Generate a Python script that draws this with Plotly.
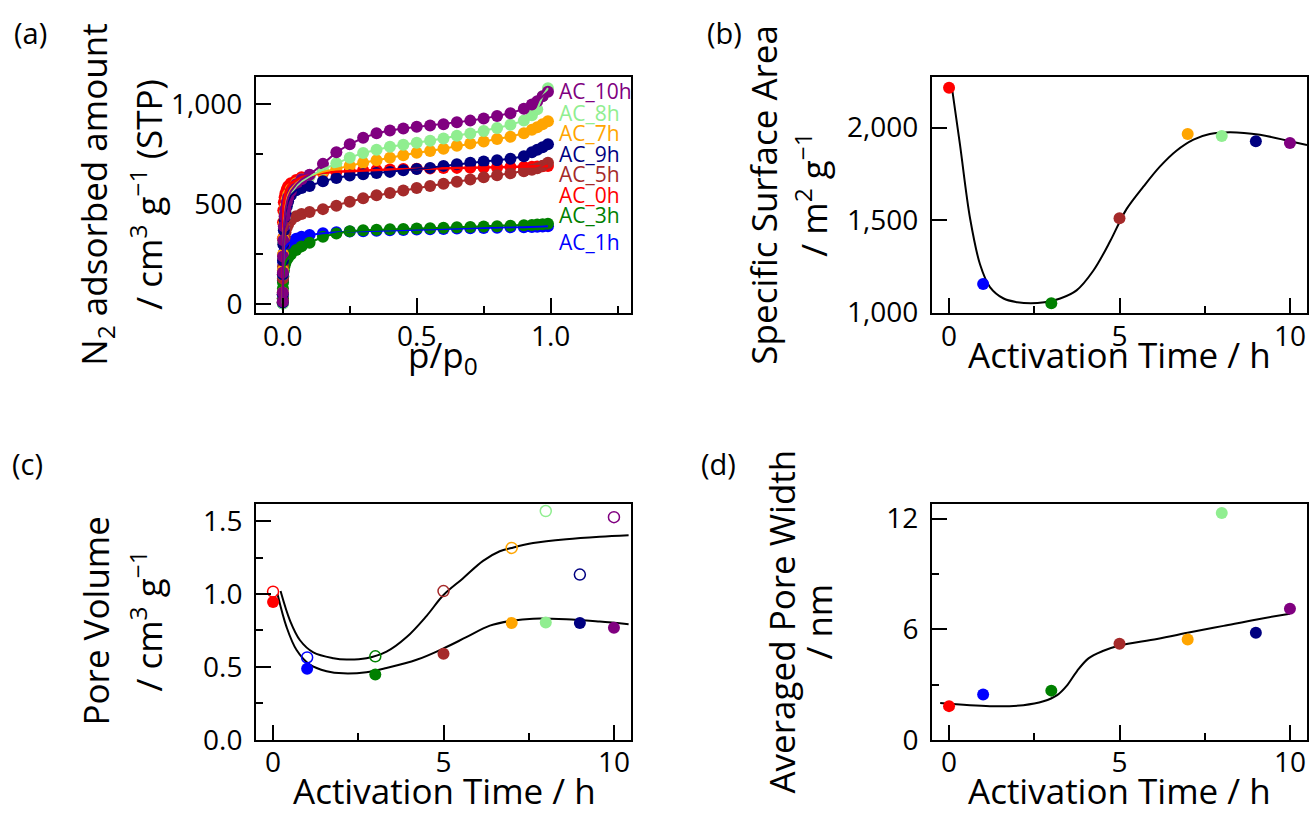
import plotly.graph_objects as go

W, H = 1312, 835
FONT = "Open Sans"

# ---------------- Panel (a): N2 isotherms ----------------
p_rel = [0.00002, 0.0001, 0.0005, 0.001, 0.002, 0.004, 0.007, 0.01, 0.015, 0.02, 0.03,
         0.05, 0.07, 0.1, 0.15, 0.2, 0.25, 0.3, 0.35, 0.4, 0.45, 0.5, 0.55, 0.6,
         0.65, 0.7, 0.75, 0.8, 0.85, 0.9, 0.93, 0.95, 0.97, 0.99]

iso_0h = [30, 150, 330, 410, 470, 510, 535, 555, 575, 590, 605,
          622, 635, 645, 656, 663, 667, 670, 672, 674, 676, 678, 679, 681,
          682, 683, 684, 685, 686, 687, 688, 689, 690, 691]
iso_1h = [10, 50, 120, 170, 210, 245, 270, 285, 295, 303, 312,
          328, 338, 347, 355, 360, 364, 366, 368, 370, 372, 374, 376, 377,
          379, 380, 382, 383, 385, 386, 387, 388, 389, 390]
iso_3h = [5, 30, 80, 110, 140, 170, 195, 210, 225, 235, 250,
          272, 290, 308, 338, 354, 366, 370, 373, 375, 377, 379, 381, 383,
          385, 387, 389, 391, 393, 395, 397, 399, 401, 403]
iso_5h = [10, 50, 130, 190, 250, 300, 335, 360, 385, 400, 420,
          440, 452, 462, 476, 493, 513, 530, 545, 557, 569, 581, 592, 603,
          613, 624, 635, 645, 655, 665, 673, 680, 693, 708]
iso_7h = [10, 60, 170, 250, 330, 400, 450, 490, 525, 548, 575,
          605, 625, 642, 662, 678, 693, 708, 720, 733, 745, 757, 766, 778,
          792, 804, 814, 826, 838, 855, 872, 885, 900, 915]
iso_8h = [5, 50, 150, 230, 310, 380, 430, 465, 500, 525, 555,
          590, 615, 640, 675, 705, 733, 756, 773, 787, 798, 808, 818, 829,
          842, 854, 866, 881, 897, 918, 945, 975, 1040, 1080]
iso_9h = [10, 50, 150, 220, 300, 370, 420, 455, 490, 515, 545,
          570, 582, 592, 615, 632, 644, 650, 656, 662, 670, 676, 682, 692,
          700, 708, 714, 720, 728, 740, 760, 772, 785, 800]
iso_10h = [15, 60, 160, 240, 320, 390, 440, 475, 510, 535, 565,
           600, 625, 648, 702, 760, 800, 832, 855, 869, 879, 887, 894, 900,
           910, 918, 928, 941, 955, 977, 998, 1015, 1040, 1062]

series_names = ["AC_0h", "AC_1h", "AC_3h", "AC_5h", "AC_7h", "AC_8h", "AC_9h", "AC_10h"]
series_vals = [iso_0h, iso_1h, iso_3h, iso_5h, iso_7h, iso_8h, iso_9h, iso_10h]
series_colors = ["#ff0000", "#0000ff", "#008000", "#a52a2a", "#ffa500", "#90ee90", "#000080", "#800080"]

# label order (top to bottom) and their vertical placement
label_names = ["AC_10h", "AC_8h", "AC_7h", "AC_9h", "AC_5h", "AC_0h", "AC_3h", "AC_1h"]
label_y = [1065, 956, 854, 752, 649, 547, 447, 313]

# ---------------- Panels (b)-(d): vs activation time ----------------
act_time = [0, 1, 3, 5, 7, 8, 9, 10]
point_colors = ["#ff0000", "#0000ff", "#008000", "#a52a2a", "#ffa500", "#90ee90", "#000080", "#800080"]

ssa = [2216, 1153, 1049, 1509, 1965, 1954, 1926, 1917]
ssa_fit_x = [0.1, 0.32, 0.62, 0.91, 1.2, 1.6, 2.0, 2.4, 2.8, 3.26, 3.74, 4.23, 4.72,
             5.0, 5.21, 5.7, 6.19, 6.67, 7.17, 7.65, 8.24, 9.12, 10.0, 10.5]
ssa_fit_y = [2196, 1909, 1505, 1259, 1137, 1075, 1055, 1049, 1055, 1075, 1119, 1225, 1383,
             1488, 1560, 1680, 1790, 1875, 1935, 1965, 1975, 1961, 1926, 1905]

pv_filled = [0.945, 0.487, 0.449, 0.591, 0.802, 0.805, 0.802, 0.769]
pv_open = [1.016, 0.565, 0.573, 1.02, 1.316, 1.569, 1.133, 1.527]
pv_fit_low_x = [0.13, 0.4, 0.69, 1.08, 1.57, 2.06, 2.74, 3.33, 4.21, 5.0, 5.67, 6.36,
                7.0, 7.63, 8.6, 9.58, 10.43]
pv_fit_low_y = [1.0, 0.771, 0.616, 0.516, 0.471, 0.456, 0.464, 0.493, 0.549, 0.627, 0.704,
                0.783, 0.816, 0.831, 0.827, 0.811, 0.793]
pv_fit_high_x = [0.22, 0.5, 0.79, 1.18, 1.77, 2.16, 2.74, 3.33, 3.92, 4.5, 5.0, 5.56,
                 6.16, 6.65, 7.0, 7.63, 8.6, 9.58, 10.43]
pv_fit_high_y = [1.02, 0.816, 0.683, 0.6, 0.56, 0.551, 0.56, 0.605, 0.705, 0.849, 0.993,
                 1.105, 1.227, 1.293, 1.316, 1.349, 1.376, 1.393, 1.403]

apw = [1.83, 2.46, 2.67, 5.21, 5.44, 12.3, 5.81, 7.11]
apw_fit_x = [-0.26, 1.2, 2.18, 2.77, 3.16, 3.45, 3.75, 4.09, 4.53, 5.0, 6.1, 7.07, 8.05,
             9.03, 10.0]
apw_fit_y = [2.0, 1.83, 1.88, 2.09, 2.41, 2.93, 3.72, 4.42, 4.83, 5.12, 5.47, 5.83, 6.18,
             6.53, 6.84]


def px_x(x):
    return x / W


def px_y(y):
    return 1 - y / H


fig = go.Figure()

# (a) markers first, then lines on top
for name, vals, col in zip(series_names, series_vals, series_colors):
    fig.add_trace(go.Scatter(x=p_rel, y=vals, mode="markers", name=name,
                             marker=dict(color=col, size=12, line=dict(width=0)),
                             xaxis="x", yaxis="y", showlegend=False))
for name, vals, col in zip(series_names, series_vals, series_colors):
    fig.add_trace(go.Scatter(x=p_rel, y=vals, mode="lines", name=name,
                             line=dict(color=col, width=2.5 if name == "AC_0h" else 2),
                             xaxis="x", yaxis="y", showlegend=False))

# (b)
fig.add_trace(go.Scatter(x=ssa_fit_x, y=ssa_fit_y, mode="lines", line=dict(color="black", width=2, shape="spline"),
                         xaxis="x2", yaxis="y2", showlegend=False))
fig.add_trace(go.Scatter(x=act_time, y=ssa, mode="markers",
                         marker=dict(color=point_colors, size=12, line=dict(width=0)),
                         xaxis="x2", yaxis="y2", showlegend=False))

# (c)
fig.add_trace(go.Scatter(x=pv_fit_low_x, y=pv_fit_low_y, mode="lines", line=dict(color="black", width=2, shape="spline"),
                         xaxis="x3", yaxis="y3", showlegend=False))
fig.add_trace(go.Scatter(x=pv_fit_high_x, y=pv_fit_high_y, mode="lines", line=dict(color="black", width=2, shape="spline"),
                         xaxis="x3", yaxis="y3", showlegend=False))
fig.add_trace(go.Scatter(x=act_time, y=pv_filled, mode="markers",
                         marker=dict(color=point_colors, size=12, line=dict(width=0)),
                         xaxis="x3", yaxis="y3", showlegend=False))
fig.add_trace(go.Scatter(x=act_time, y=pv_open, mode="markers",
                         marker=dict(symbol="circle-open", color=point_colors, size=11, line=dict(width=1.5)),
                         xaxis="x3", yaxis="y3", showlegend=False))

# (d)
fig.add_trace(go.Scatter(x=apw_fit_x, y=apw_fit_y, mode="lines", line=dict(color="black", width=2, shape="spline"),
                         xaxis="x4", yaxis="y4", showlegend=False))
fig.add_trace(go.Scatter(x=act_time, y=apw, mode="markers",
                         marker=dict(color=point_colors, size=12, line=dict(width=0)),
                         xaxis="x4", yaxis="y4", showlegend=False))

tickfont = dict(family=FONT, size=28, color="black")
minor_style = dict(ticks="inside", ticklen=7, tickwidth=1.5, tickcolor="black", showgrid=False)


def axis(domain, rng, tickvals, fmt, minor_dtick=None, anchor=None, standoff=6):
    d = dict(domain=domain, range=rng, tickvals=tickvals, tickformat=fmt,
             showline=True, linecolor="black", linewidth=2, mirror=True,
             ticks="inside", ticklen=15, tickwidth=1.5, tickcolor="black",
             showgrid=False, zeroline=False, tickfont=tickfont, anchor=anchor,
             ticklabelstandoff=standoff)
    if minor_dtick is not None:
        d["minor"] = dict(dtick=minor_dtick, **minor_style)
    return d


colA = [px_x(256), px_x(631)]
colB = [px_x(932), px_x(1307)]
rowA = [px_y(317), px_y(74)]
rowB = [px_y(755.7), px_y(512.7)]

XS = -3
YS = 6
layout = dict(
    width=W, height=H, margin=dict(l=0, r=0, t=0, b=0),
    paper_bgcolor="white", plot_bgcolor="white",
    font=dict(family=FONT, color="black"),
    xaxis=axis(colA, [-0.1, 1.3], [0, 0.5, 1.0], ".1f", 0.25, "y", XS),
    yaxis=axis(rowA, [-44, 1136], [0, 500, 1000], ",", 250, "x", YS),
    xaxis2=axis(colB, [-0.5, 10.5], [0, 5, 10], "d", 2.5, "y2", XS),
    yaxis2=axis(rowA, [995, 2274], [1000, 1500, 2000], ",", None, "x2", YS),
    xaxis3=axis(colA, [-0.5, 10.5], [0, 5, 10], "d", 2.5, "y3", XS),
    yaxis3=axis(rowB, [0, 1.62], [0, 0.5, 1.0, 1.5], ".1f", 0.25, "x3", YS),
    xaxis4=axis(colB, [-0.5, 10.5], [0, 5, 10], "d", 2.5, "y4", XS),
    yaxis4=axis(rowB, [0, 12.81], [0, 6, 12], "d", 3, "x4", YS),
)
fig.update_layout(**layout)

annots = []
# series labels in (a)
for name, yv in zip(label_names, label_y):
    col = series_colors[series_names.index(name)]
    annots.append(dict(x=1.022, y=yv, xref="x", yref="y", text=name, showarrow=False,
                       xanchor="left", yanchor="middle",
                       font=dict(family=FONT, size=21, color=col)))

TF = dict(family=FONT, size=35, color="black")


def vtitle(x, y, text):
    annots.append(dict(x=px_x(x), y=px_y(y), xref="paper", yref="paper", text=text,
                       showarrow=False, textangle=-90, xanchor="center", yanchor="middle", font=TF))


def htitle(x, y, text):
    annots.append(dict(x=px_x(x), y=px_y(y), xref="paper", yref="paper", text=text,
                       showarrow=False, xanchor="center", yanchor="middle", font=TF))


def plabel(x, y, text):
    annots.append(dict(x=px_x(x), y=px_y(y), xref="paper", yref="paper", text=text,
                       showarrow=False, xanchor="center", yanchor="middle",
                       font=dict(family=FONT, size=29, color="black")))


# (a)
vtitle(96, 195, "N<sub>2</sub> adsorbed amount")
vtitle(147, 195, "/ cm<sup>3</sup> g<sup>\u22121</sup> (STP)")
htitle(443, 361, "p/p<sub>0</sub>")
plabel(30, 28, "(a)")
# (b)
vtitle(764, 195, "Specific Surface Area")
vtitle(812, 195, "/ m<sup>2</sup> g<sup>\u22121</sup>")
htitle(1119, 359, "Activation Time / h")
plabel(724, 28, "(b)")
# (c)
vtitle(96, 634, "Pore Volume")
vtitle(147, 634, "/ cm<sup>3</sup> g<sup>\u22121</sup>")
htitle(444, 808, "Activation Time / h")
plabel(27, 472, "(c)")
# (d)
vtitle(782, 634, "Averaged Pore Width")
vtitle(819, 634, "/ nm")
htitle(1119, 808, "Activation Time / h")
plabel(718, 472, "(d)")

fig.update_layout(annotations=annots)
fig.write_html("out.html")
